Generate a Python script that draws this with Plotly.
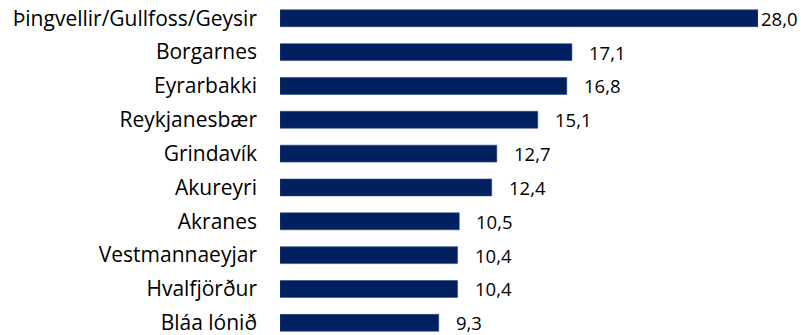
import plotly.graph_objects as go

# Destinations and their values
places = ["Þingvellir/Gullfoss/Geysir", "Borgarnes", "Eyrarbakki", "Reykjanesbær",
          "Grindavík", "Akureyri", "Akranes", "Vestmannaeyjar", "Hvalfjörður", "Bláa lónið"]
values = [28.0, 17.1, 16.8, 15.1, 12.7, 12.4, 10.5, 10.4, 10.4, 9.3]

BAR_COLOR = "#002060"
FONT = "Open Sans"

fig = go.Figure(go.Bar(
    x=values, y=places, orientation="h",
    marker=dict(color=BAR_COLOR, line=dict(color="#2f4a80", width=0.6)),
    width=0.5,
    hoverinfo="skip",
))

# Value labels outside bar ends (the longest one sits tight to the plot edge)
xmax = max(values)
for p, v in zip(places, values):
    fig.add_annotation(
        x=v, y=p, text=f"{v:.1f}".replace(".", ","),
        xanchor="left", yanchor="middle", showarrow=False,
        xshift=1 if v == xmax else 15,
        font=dict(family=FONT, size=18.5, color="#000000"),
    )

fig.update_layout(
    width=801, height=335,
    margin=dict(l=280, r=43, t=0, b=0),
    paper_bgcolor="white", plot_bgcolor="white",
    showlegend=False,
    xaxis=dict(range=[0, xmax], visible=False, fixedrange=True),
    yaxis=dict(
        categoryorder="array", categoryarray=places,
        range=[9.36, -0.54],
        showgrid=False, zeroline=False, showline=False,
        ticks="", ticklabelstandoff=22,
        tickfont=dict(family=FONT, size=21, color="#000000"),
    ),
)

fig.write_html("out.html")
